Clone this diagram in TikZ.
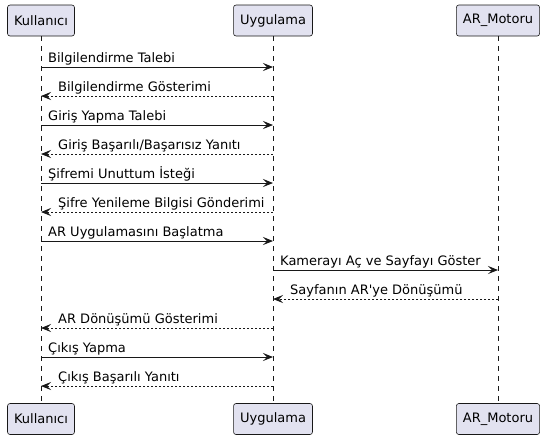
\documentclass[tikz,border=0pt]{standalone}
\usepackage{fontspec}
\setmainfont{DejaVu Sans}
\usetikzlibrary{arrows.meta}
\definecolor{partfill}{HTML}{E2E2F0}
\definecolor{lineclr}{HTML}{181818}
\begin{document}
\begin{tikzpicture}[x=1pt,y=-1pt,
  font=\fontsize{13}{15}\selectfont,
  part/.style={draw=lineclr, fill=partfill, line width=0.6pt, rounded corners=2.5pt,
    minimum height=31pt, inner xsep=6.5pt, inner ysep=0pt, text=black},
  life/.style={draw=lineclr, line width=0.5pt, dash pattern=on 5pt off 5pt},
  msg/.style={draw=lineclr, line width=0.9pt, -{Stealth[length=10pt,width=8pt,inset=4pt]}},
  ret/.style={msg, dash pattern=on 2pt off 2pt},
  lbl/.style={anchor=base west, inner sep=0pt, text=black}]
\useasboundingbox (0,0) rectangle (548,440);
% participants
\node[part] (kTop) at (41,20.5) {Kullanıcı};
\node[part] (uTop) at (273,20.5) {Uygulama};
\node[part] (aTop) at (498,20.5) {AR\_Motoru};
\node[part] (kBot) at (41,419) {Kullanıcı};
\node[part] (uBot) at (273,419) {Uygulama};
\node[part] (aBot) at (498,419) {AR\_Motoru};
% lifelines
\draw[life] (kTop.south) -- (kBot.north);
\draw[life] (uTop.south) -- (uBot.north);
\draw[life] (aTop.south) -- (aBot.north);
% message anchor points
\foreach \i/\y in {1/67,2/96,3/125,4/154,5/183,6/212,7/241,8/270,9/299,10/328,11/357,12/386}{
  \coordinate (k\i) at (41,\y);
  \coordinate (u\i) at (273,\y);
  \coordinate (a\i) at (498,\y);
}
% messages
\draw[msg] (k1) -- (u1);
\node[lbl] (t1) at ([xshift=7pt,yshift=5pt]k1) {Bilgilendirme Talebi};
\draw[ret] (u2) -- (k2);
\node[lbl] (t2) at ([xshift=17pt,yshift=5pt]k2) {Bilgilendirme Gösterimi};
\draw[msg] (k3) -- (u3);
\node[lbl] (t3) at ([xshift=7pt,yshift=5pt]k3) {Giriş Yapma Talebi};
\draw[ret] (u4) -- (k4);
\node[lbl] (t4) at ([xshift=17pt,yshift=5pt]k4) {Giriş Başarılı/Başarısız Yanıtı};
\draw[msg] (k5) -- (u5);
\node[lbl] (t5) at ([xshift=7pt,yshift=5pt]k5) {Şifremi Unuttum İsteği};
\draw[ret] (u6) -- (k6);
\node[lbl] (t6) at ([xshift=17pt,yshift=5pt]k6) {Şifre Yenileme Bilgisi Gönderimi};
\draw[msg] (k7) -- (u7);
\node[lbl] (t7) at ([xshift=7pt,yshift=5pt]k7) {AR Uygulamasını Başlatma};
\draw[msg] (u8) -- (a8);
\node[lbl] (t8) at ([xshift=7pt,yshift=5pt]u8) {Kamerayı Aç ve Sayfayı Göster};
\draw[ret] (a9) -- (u9);
\node[lbl] (t9) at ([xshift=17pt,yshift=5pt]u9) {Sayfanın AR\textquotesingle ye Dönüşümü};
\draw[ret] (u10) -- (k10);
\node[lbl] (t10) at ([xshift=17pt,yshift=5pt]k10) {AR Dönüşümü Gösterimi};
\draw[msg] (k11) -- (u11);
\node[lbl] (t11) at ([xshift=7pt,yshift=5pt]k11) {Çıkış Yapma};
\draw[ret] (u12) -- (k12);
\node[lbl] (t12) at ([xshift=17pt,yshift=5pt]k12) {Çıkış Başarılı Yanıtı};
\end{tikzpicture}
\end{document}
